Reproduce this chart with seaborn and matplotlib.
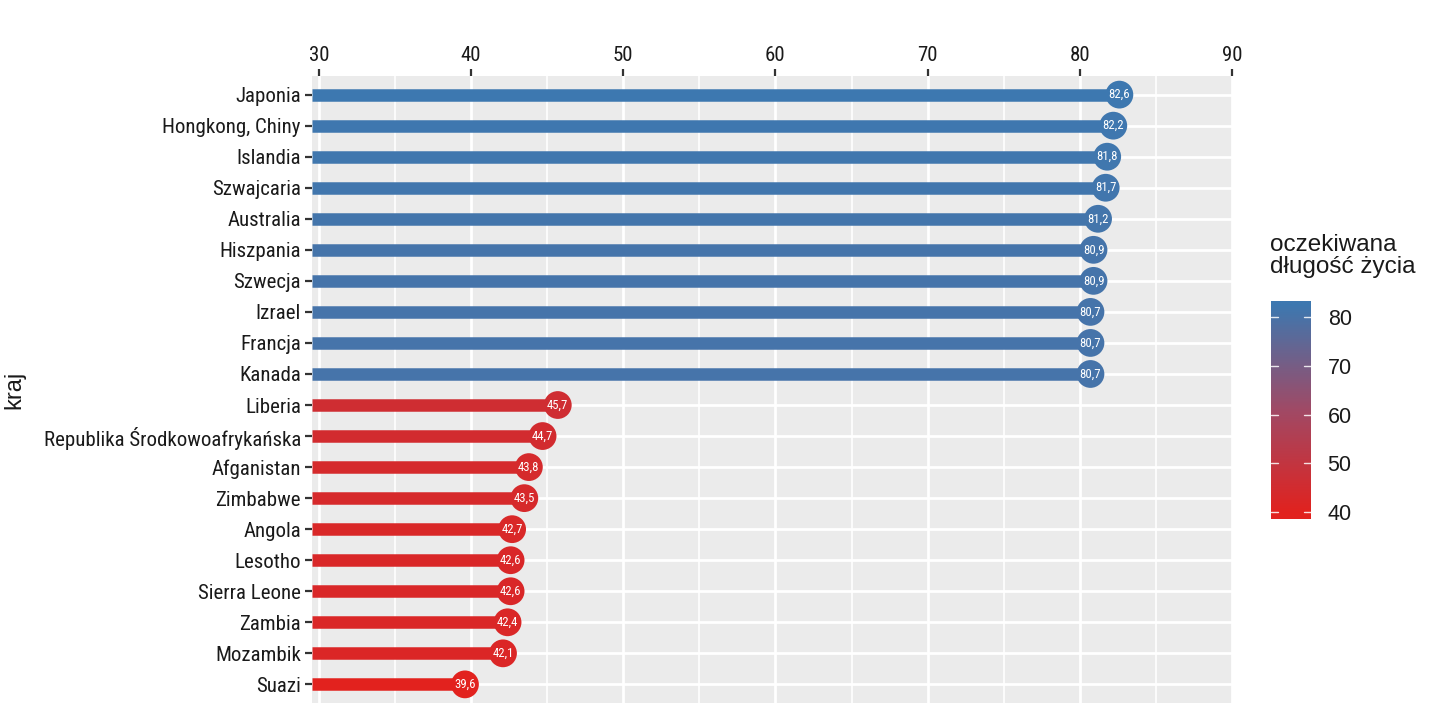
import numpy as np
import pandas as pd
import matplotlib
matplotlib.use("Agg")
import matplotlib.pyplot as plt
import seaborn as sns
from matplotlib import font_manager
from matplotlib.colors import LinearSegmentedColormap, Normalize

countries = ["Japonia", "Hongkong, Chiny", "Islandia", "Szwajcaria", "Australia",
             "Hiszpania", "Szwecja", "Izrael", "Francja", "Kanada",
             "Liberia", "Republika Środkowoafrykańska", "Afganistan", "Zimbabwe",
             "Angola", "Lesotho", "Sierra Leone", "Zambia", "Mozambik", "Suazi"]
life_exp = [82.6, 82.2, 81.8, 81.7, 81.2, 80.9, 80.9, 80.7, 80.7, 80.7,
            45.7, 44.7, 43.8, 43.5, 42.7, 42.6, 42.6, 42.4, 42.1, 39.6]
x_ticks = [30, 40, 50, 60, 70, 80, 90]
cbar_ticks = [40, 50, 60, 70, 80]

df = pd.DataFrame({"kraj": countries, "val": life_exp})

sns.set_theme(style="darkgrid")
installed = {f.name for f in font_manager.fontManager.ttflist}
narrow_cands = ["Liberation Sans Narrow", "Arial Narrow", "Roboto Condensed",
                "Open Sans Condensed", "DejaVu Sans Condensed"]
narrow_found = [n for n in narrow_cands if n in installed]
regular = ["Liberation Sans", "DejaVu Sans"]
if narrow_found:
    narrow = [narrow_found[0]] + regular
    ylab_size = 15
else:
    narrow = regular
    ylab_size = 13.2
plt.rcParams["font.family"] = regular

cmap = LinearSegmentedColormap.from_list(
    "rb", [(0.0, "#E2221E"), (0.5, "#A04A66"), (1.0, "#3D78B0")])
norm = Normalize(vmin=min(life_exp), vmax=max(life_exp))

fig = plt.figure(figsize=(14.4, 7.2), dpi=100)
fig.patch.set_facecolor("white")
ax = fig.add_axes([312/1440, 1-703/720, (1232-312)/1440, (703-76)/720])
ax.set_facecolor("#EBEBEB")

ypos = np.arange(len(countries))
ax.set_xlim(29.55, 90)
ax.set_ylim(len(countries) - 0.4, -0.6)

# grid
ax.grid(False)
for xv in np.arange(35, 90, 10):
    ax.axvline(xv, color="white", lw=1.2, zorder=0)
for xv in x_ticks:
    ax.axvline(xv, color="white", lw=2.0, zorder=0)
for yv in ypos:
    ax.axhline(yv, color="white", lw=2.0, zorder=0)

x0 = ax.get_xlim()[0]
ax.hlines(ypos, x0, df["val"], colors=cmap(norm(df["val"])), lw=9, zorder=2)
sns.scatterplot(data=df, x="val", y="kraj", hue="val", hue_norm=norm, palette=cmap,
                s=400, edgecolor="none", legend=False, ax=ax, zorder=3)
for yi, v in zip(ypos, life_exp):
    ax.text(v, yi, f"{v:.1f}".replace(".", ","), color="white", fontsize=9.2,
            ha="center", va="center", zorder=4, family=narrow)

ax.set_xlim(29.55, 90)
ax.set_ylim(len(countries) - 0.4, -0.6)
ax.set_xticks(x_ticks)
ax.xaxis.tick_top()
ax.set_xlabel("")
ax.set_ylabel("kraj", fontsize=17, color="#1a1a1a", family=regular)
ax.yaxis.set_label_coords((25 - 312) / 920, 0.5)
ax.tick_params(axis="both", which="major", length=5, width=1.6, color="#333333",
               labelcolor="#1a1a1a", pad=3)
ax.tick_params(axis="x", top=True, bottom=False, labeltop=True, labelbottom=False,
               labelsize=15)
ax.tick_params(axis="y", left=True, labelsize=ylab_size)
for lab in ax.get_yticklabels():
    lab.set_family(narrow)
for lab in ax.get_xticklabels():
    lab.set_family(narrow)
for s in ax.spines.values():
    s.set_visible(False)

# colorbar
cax = fig.add_axes([1271/1440, 1-519/720, 40/1440, 218/720])
lo, hi = 38.6, 83.3
grad = np.linspace(lo, hi, 256).reshape(-1, 1)
cax.imshow(grad, aspect="auto", cmap=cmap, norm=norm, origin="lower",
           extent=[0, 1, lo, hi])
for t in cbar_ticks:
    cax.plot([0, 0.18], [t, t], color="white", lw=1, alpha=0.85)
    cax.plot([0.82, 1], [t, t], color="white", lw=1, alpha=0.85)
cax.set_xlim(0, 1)
cax.set_ylim(lo, hi)
cax.grid(False)
cax.set_xticks([])
cax.set_yticks(cbar_ticks)
cax.yaxis.tick_right()
cax.tick_params(axis="y", length=0, labelsize=15.5, labelcolor="#1a1a1a", pad=12)
for s in cax.spines.values():
    s.set_visible(False)
fig.text(1270/1440, 1-234/720, "oczekiwana\ndługość życia", fontsize=17.5,
         ha="left", va="top", color="#1a1a1a", family=regular, linespacing=1.0)

fig.savefig("out.png", dpi=100)
